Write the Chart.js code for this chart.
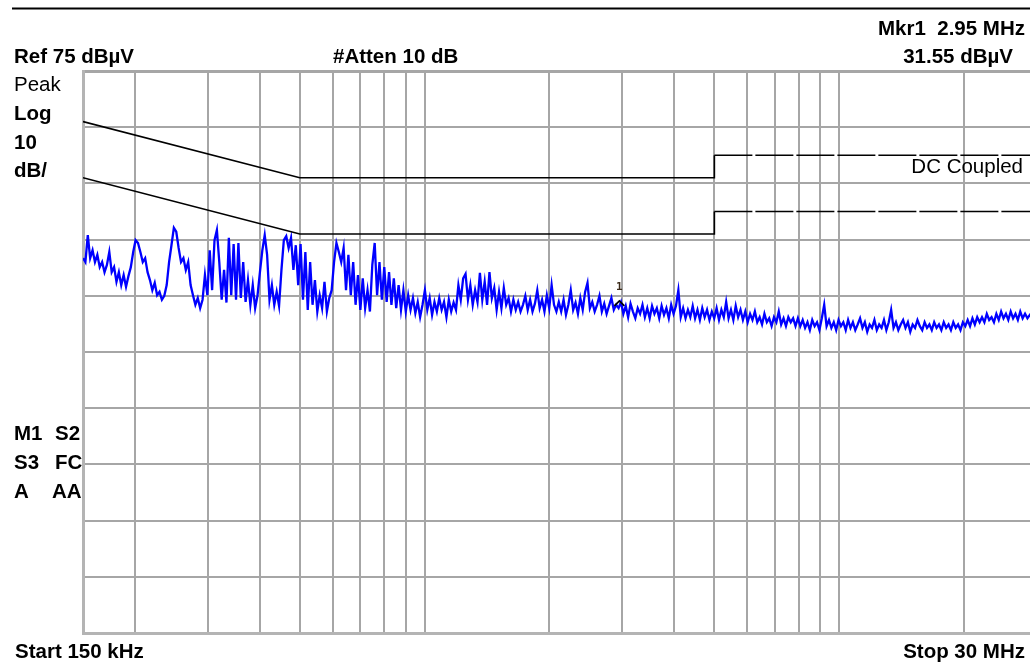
<!DOCTYPE html>
<html>
<head>
<meta charset="utf-8">
<script src="https://cdn.jsdelivr.net/npm/chart.js@4.4.1/dist/chart.umd.min.js"></script>
<style>
  html, body { margin: 0; padding: 0; background: #fff; overflow: hidden; }
  #wrap { width: 1040px; height: 666px; }
</style>
</head>
<body>
<div id="wrap"><canvas id="spectrum" width="1040" height="666"></canvas></div>
<script>
// sweep: 150 kHz .. 30 MHz, log, 400 points
const startMHz = 0.15;
const stopMHz = 30;
const sweepPoints = 400;

// peak trace, dBuV
const traceLevels = [
  41.7, 41.0, 45.8, 41.7, 43.1, 41.0, 42.3, 40.1, 41.0, 39.2,
  40.5, 42.8, 39.2, 40.1, 37.5, 39.2, 36.9, 38.7, 36.6, 38.5,
  40.1, 42.8, 44.9, 44.4, 42.8, 41.0, 41.7, 39.2, 37.8, 36.0,
  37.3, 35.1, 35.7, 34.3, 35.0, 36.9, 41.0, 44.0, 47.1, 46.4,
  43.5, 41.0, 41.7, 39.6, 41.0, 36.9, 35.1, 33.4, 34.6, 32.8,
  34.3, 38.7, 35.1, 43.1, 36.0, 44.9, 46.7, 41.0, 34.3, 39.6,
  33.8, 45.3, 35.1, 44.2, 34.3, 44.4, 34.6, 41.0, 33.9, 37.8,
  33.4, 36.9, 32.8, 35.1, 39.2, 43.1, 45.8, 42.3, 34.3, 36.9,
  33.4, 35.7, 33.2, 39.6, 44.9, 45.6, 43.5, 45.3, 39.6, 44.0,
  36.9, 44.2, 34.3, 42.8, 32.5, 41.0, 33.4, 37.8, 32.2, 35.1,
  32.8, 37.5, 32.2, 34.6, 36.0, 41.0, 44.4, 42.8, 41.0, 43.5,
  36.0, 42.3, 35.1, 41.0, 33.4, 38.7, 32.5, 38.1, 32.8, 36.0,
  32.2, 40.5, 44.4, 35.1, 41.0, 34.3, 40.1, 33.9, 39.2, 33.4,
  38.1, 32.8, 36.9, 32.5, 36.0, 32.2, 35.1, 32.5, 34.6, 31.9,
  33.9, 31.2, 33.4, 36.0, 32.5, 34.6, 31.6, 33.9, 32.2, 34.6,
  32.5, 33.9, 31.2, 34.3, 32.2, 33.8, 32.5, 36.9, 34.3, 38.1,
  38.9, 34.3, 36.9, 33.4, 36.0, 33.9, 39.1, 34.3, 37.5, 33.4,
  39.2, 34.6, 36.4, 32.5, 35.7, 32.8, 36.4, 33.4, 34.6, 32.2,
  34.3, 32.5, 33.9, 32.2, 33.4, 35.0, 32.5, 34.3, 32.2, 33.6,
  36.0, 32.8, 34.3, 32.2, 35.1, 32.8, 36.9, 33.4, 32.2, 33.9,
  32.2, 34.3, 31.6, 33.4, 36.0, 32.5, 33.8, 31.8, 34.6, 32.5,
  35.7, 37.3, 32.8, 33.9, 32.2, 33.4, 35.0, 32.2, 33.6, 31.8,
  33.2, 34.6, 32.5, 33.4, 32.8, 33.9, 31.8, 33.2, 31.2, 33.6,
  32.2, 31.0, 32.8, 31.8, 33.4, 31.2, 32.8, 31.0, 33.2, 31.8,
  32.8, 31.0, 33.2, 31.6, 32.8, 31.0, 33.4, 31.8, 33.2, 36.0,
  31.2, 32.8, 31.0, 32.5, 31.2, 33.2, 31.0, 32.5, 30.7, 32.8,
  31.2, 32.5, 30.7, 32.2, 31.0, 32.8, 30.7, 32.5, 31.2, 33.9,
  31.0, 32.5, 30.7, 33.2, 31.2, 32.5, 30.7, 32.2, 30.3, 31.8,
  30.7, 32.2, 30.3, 31.2, 29.9, 31.8, 30.3, 31.0, 29.6, 31.2,
  30.3, 32.2, 29.9, 31.0, 29.6, 31.2, 30.3, 31.0, 29.6, 31.0,
  29.6, 30.7, 29.3, 30.3, 28.9, 30.7, 29.6, 30.3, 28.9, 31.0,
  33.4, 29.6, 30.7, 29.3, 30.3, 28.9, 30.7, 29.6, 30.3, 28.9,
  30.7, 29.3, 30.3, 28.9, 29.9, 31.0, 29.3, 30.3, 28.6, 29.9,
  29.3, 30.7, 28.9, 29.9, 29.3, 30.7, 28.9, 30.3, 32.5, 29.3,
  30.3, 28.9, 29.9, 30.7, 29.3, 30.3, 28.6, 29.9, 29.3, 30.7,
  29.6, 28.9, 30.3, 29.3, 29.9, 28.9, 30.3, 29.3, 29.9, 28.9,
  30.3, 29.3, 29.9, 28.9, 30.3, 29.3, 29.9, 28.9, 30.3, 29.6,
  30.7, 29.6, 31.0, 29.9, 31.2, 30.3, 31.2, 30.3, 31.8, 30.7,
  31.2, 30.3, 31.8, 30.7, 32.2, 31.0, 31.8, 30.7, 32.2, 31.0,
  31.8, 30.7, 32.2, 31.0, 31.8, 31.0, 31.6, 31.0, 31.8, 31.2
];

// limit lines (MHz / dBuV)
const limitFreqs = [0.15, 0.5, 5, 5];
const upperLimit = [66, 56, 56, 60];
const lowerLimit = [56, 46, 46, 50];
const limitTailFreqs = [5, 30];
const upperTail = [60, 60];
const lowerTail = [50, 50];

// marker 1
const markerFreq = 2.95;
const markerLevel = 33.2;

// graticule
const freqGrid = [0.15, 0.2, 0.3, 0.4, 0.5, 0.6, 0.7, 0.8, 0.9, 1, 2, 3, 4, 5, 6, 7, 8, 9, 10, 20, 30];
const levelGrid = [-25, -15, -5, 5, 15, 25, 35, 45, 55, 65, 75];

function sweepFreqs() {
  const f = [];
  for (let i = 0; i < sweepPoints; i++) f.push(startMHz * Math.pow(stopMHz / startMHz, i / (sweepPoints - 1)));
  return f;
}

function pairs(xs, ys) {
  return xs.map((x, i) => ({ x: x, y: ys[i] }));
}

const gridColor = '#a6a6a6';
const BOLD = 'bold 20.5px "Liberation Sans", Arial, sans-serif';
const REG = '20.5px "Liberation Sans", Arial, sans-serif';

function text(ctx, s, x, y, font, align) {
  ctx.font = font;
  ctx.textAlign = align || 'left';
  ctx.textBaseline = 'alphabetic';
  ctx.fillText(s, x, y);
}

const annotations = {
  id: 'annotations',
  afterDraw(chart) {
    const ctx = chart.ctx;
    ctx.save();
    ctx.fillStyle = '#000';
    ctx.strokeStyle = '#000';

    // rule across the top
    ctx.lineWidth = 2;
    ctx.beginPath();
    ctx.moveTo(12, 8.5);
    ctx.lineTo(1040, 8.5);
    ctx.stroke();

    text(ctx, 'Mkr1  2.95 MHz', 1025, 35, BOLD, 'right');
    text(ctx, 'Ref 75 dB\u00b5V', 14, 63, BOLD);
    text(ctx, '#Atten 10 dB', 333, 63, BOLD);
    text(ctx, '31.55 dB\u00b5V', 1013, 63, BOLD, 'right');
    text(ctx, 'Peak', 14, 91, REG);
    text(ctx, 'Log', 14, 120, BOLD);
    text(ctx, '10', 14, 149, BOLD);
    text(ctx, 'dB/', 14, 177, BOLD);
    text(ctx, 'DC Coupled', 1023, 173, REG, 'right');
    text(ctx, 'M1', 14, 440, BOLD);
    text(ctx, 'S2', 55, 440, BOLD);
    text(ctx, 'S3', 14, 469, BOLD);
    text(ctx, 'FC', 55, 469, BOLD);
    text(ctx, 'A', 14, 498, BOLD);
    text(ctx, 'AA', 52, 498, BOLD);
    text(ctx, 'Start 150 kHz', 15, 658, BOLD);
    text(ctx, 'Stop 30 MHz', 1025, 658, BOLD, 'right');

    // marker: caret plus number
    const mx = chart.scales.x.getPixelForValue(markerFreq);
    const my = chart.scales.y.getPixelForValue(markerLevel);
    ctx.lineWidth = 1.8;
    ctx.beginPath();
    ctx.moveTo(mx - 5, my);
    ctx.lineTo(mx, my - 5);
    ctx.lineTo(mx + 5, my);
    ctx.stroke();
    ctx.font = 'bold 11px "DejaVu Sans Mono", monospace';
    ctx.textAlign = 'center';
    ctx.textBaseline = 'alphabetic';
    ctx.fillStyle = '#3a2a1a';
    ctx.fillText('1', mx, my - 16);
    ctx.restore();
  }
};

function initChart() {
  const freqs = sweepFreqs();
  const lim = { borderColor: '#000', borderWidth: 1.6, pointRadius: 0, tension: 0 };
  new Chart(document.getElementById('spectrum'), {
    type: 'line',
    data: {
      datasets: [
        Object.assign({ data: pairs(limitFreqs, upperLimit) }, lim),
        Object.assign({ data: pairs(limitFreqs, lowerLimit) }, lim),
        Object.assign({ data: pairs(limitTailFreqs, upperTail), borderDash: [38, 3] }, lim),
        Object.assign({ data: pairs(limitTailFreqs, lowerTail), borderDash: [38, 3] }, lim),
        { data: pairs(freqs, traceLevels), borderColor: '#0000ff', borderWidth: 2.3, pointRadius: 0, tension: 0 }
      ]
    },
    options: {
      responsive: false,
      animation: false,
      layout: { padding: { left: 83, top: 71, right: 3, bottom: 33 } },
      plugins: { legend: { display: false }, tooltip: { enabled: false } },
      scales: {
        x: {
          type: 'logarithmic', min: startMHz, max: stopMHz,
          afterBuildTicks: s => { s.ticks = freqGrid.map(v => ({ value: v })); },
          ticks: { display: false },
          grid: { color: gridColor, lineWidth: 2, drawTicks: false },
          border: { display: true, color: '#b4b4b4', width: 3 }
        },
        y: {
          type: 'linear', min: -25, max: 75,
          afterBuildTicks: s => { s.ticks = levelGrid.map(v => ({ value: v })); },
          ticks: { display: false },
          grid: { color: gridColor, lineWidth: c => (c.tick && c.tick.value === 75 ? 3 : 2), drawTicks: false },
          border: { display: true, color: '#b4b4b4', width: 3 }
        }
      }
    },
    plugins: [annotations]
  });
}

window.onload = initChart;
</script>
</body>
</html>
